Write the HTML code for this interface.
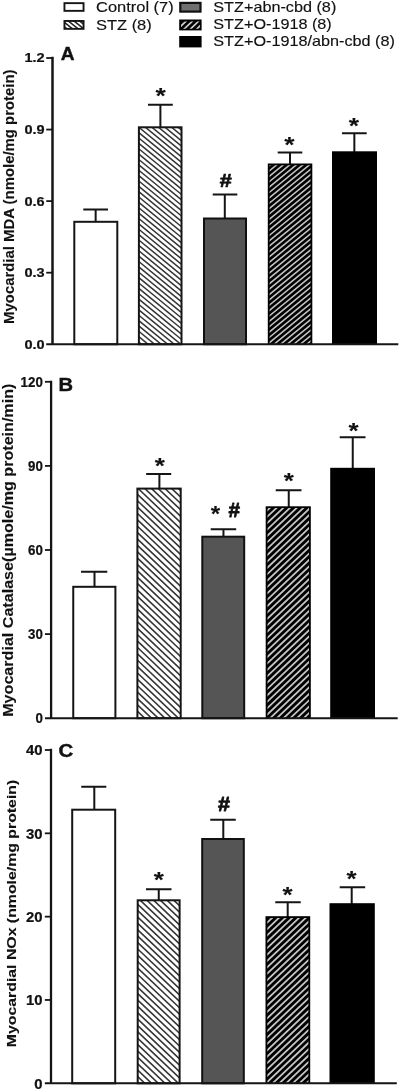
<!DOCTYPE html>
<html lang="en">
<head>
<meta charset="utf-8">
<title>Myocardial MDA, Catalase and NOx</title>
<style>
html,body{margin:0;padding:0;background:#fff;}
body{width:400px;height:1091px;overflow:hidden;}
svg{display:block;font-family:'Liberation Sans', Arial, Helvetica, sans-serif;filter:blur(0.35px);}
</style>
</head>
<body>
<svg width="400" height="1091" viewBox="0 0 400 1091">
<defs>
<clipPath id="c1"><rect x="138.90" y="127.30" width="42.60" height="216.95"/></clipPath>
<clipPath id="c2"><rect x="269.60" y="165.30" width="40.90" height="178.45"/></clipPath>
<clipPath id="c3"><rect x="137.40" y="488.60" width="43.30" height="229.60"/></clipPath>
<clipPath id="c4"><rect x="267.50" y="508.10" width="41.50" height="209.60"/></clipPath>
<clipPath id="c5"><rect x="137.70" y="900.30" width="41.90" height="183.00"/></clipPath>
<clipPath id="c6"><rect x="267.30" y="918.00" width="41.10" height="164.80"/></clipPath>
<clipPath id="c7"><rect x="64.45" y="20.95" width="19.10" height="7.90"/></clipPath>
<clipPath id="c8"><rect x="181.00" y="21.50" width="19.00" height="7.30"/></clipPath>
</defs>
<rect width="400" height="1091" fill="#fff"/>
<path d="M95.65 221.80V209.50M83.30 209.50H108.00" stroke="#151515" stroke-width="2.0" fill="none"/>
<rect x="74.30" y="221.80" width="43.00" height="122.45" fill="#fff" stroke="#151515" stroke-width="2.0"/>
<path d="M160.40 127.30V104.80M148.00 104.80H172.80" stroke="#151515" stroke-width="2.0" fill="none"/>
<rect x="138.90" y="127.30" width="42.60" height="216.95" fill="#fff"/>
<path clip-path="url(#c1)" d="M137.90 78.18L182.50 114.75M137.90 83.55L182.50 120.12M137.90 88.92L182.50 125.49M137.90 94.29L182.50 130.86M137.90 99.66L182.50 136.23M137.90 105.03L182.50 141.60M137.90 110.40L182.50 146.97M137.90 115.77L182.50 152.34M137.90 121.14L182.50 157.71M137.90 126.51L182.50 163.08M137.90 131.88L182.50 168.45M137.90 137.25L182.50 173.82M137.90 142.62L182.50 179.19M137.90 147.99L182.50 184.56M137.90 153.36L182.50 189.93M137.90 158.73L182.50 195.30M137.90 164.10L182.50 200.67M137.90 169.47L182.50 206.04M137.90 174.84L182.50 211.41M137.90 180.21L182.50 216.78M137.90 185.58L182.50 222.15M137.90 190.95L182.50 227.52M137.90 196.32L182.50 232.89M137.90 201.69L182.50 238.26M137.90 207.06L182.50 243.63M137.90 212.43L182.50 249.00M137.90 217.80L182.50 254.37M137.90 223.17L182.50 259.74M137.90 228.54L182.50 265.11M137.90 233.91L182.50 270.48M137.90 239.28L182.50 275.85M137.90 244.65L182.50 281.22M137.90 250.02L182.50 286.59M137.90 255.39L182.50 291.96M137.90 260.76L182.50 297.33M137.90 266.13L182.50 302.70M137.90 271.50L182.50 308.07M137.90 276.87L182.50 313.44M137.90 282.24L182.50 318.81M137.90 287.61L182.50 324.18M137.90 292.98L182.50 329.55M137.90 298.35L182.50 334.92M137.90 303.72L182.50 340.29M137.90 309.09L182.50 345.66M137.90 314.46L182.50 351.03M137.90 319.83L182.50 356.40M137.90 325.20L182.50 361.77M137.90 330.57L182.50 367.14M137.90 335.94L182.50 372.51M137.90 341.31L182.50 377.88M137.90 346.68L182.50 383.25M137.90 352.05L182.50 388.62M137.90 357.42L182.50 393.99M137.90 362.79L182.50 399.36M137.90 368.16L182.50 404.73M137.90 373.53L182.50 410.10M137.90 378.90L182.50 415.47M137.90 384.27L182.50 420.84" stroke="#363636" stroke-width="1.5" fill="none"/>
<rect x="138.90" y="127.30" width="42.60" height="216.95" fill="none" stroke="#151515" stroke-width="2.0"/>
<path d="M224.80 218.50V194.40M212.70 194.40H237.30" stroke="#151515" stroke-width="2.0" fill="none"/>
<rect x="204.00" y="218.50" width="42.00" height="125.75" fill="#555" stroke="#111" stroke-width="2.0"/>
<path d="M290.00 164.50V152.40M277.70 152.40H302.30" stroke="#151515" stroke-width="2.0" fill="none"/>
<rect x="267.80" y="163.50" width="44.50" height="180.75" fill="#000"/>
<rect x="269.60" y="165.30" width="40.90" height="178.45" fill="#000"/>
<path clip-path="url(#c2)" d="M268.60 117.82L311.50 82.64M268.60 123.19L311.50 88.01M268.60 128.56L311.50 93.38M268.60 133.93L311.50 98.75M268.60 139.30L311.50 104.12M268.60 144.67L311.50 109.49M268.60 150.04L311.50 114.86M268.60 155.41L311.50 120.23M268.60 160.78L311.50 125.60M268.60 166.15L311.50 130.97M268.60 171.52L311.50 136.34M268.60 176.89L311.50 141.71M268.60 182.26L311.50 147.08M268.60 187.63L311.50 152.45M268.60 193.00L311.50 157.82M268.60 198.37L311.50 163.19M268.60 203.74L311.50 168.56M268.60 209.11L311.50 173.93M268.60 214.48L311.50 179.30M268.60 219.85L311.50 184.67M268.60 225.22L311.50 190.04M268.60 230.59L311.50 195.41M268.60 235.96L311.50 200.78M268.60 241.33L311.50 206.15M268.60 246.70L311.50 211.52M268.60 252.07L311.50 216.89M268.60 257.44L311.50 222.26M268.60 262.81L311.50 227.63M268.60 268.18L311.50 233.00M268.60 273.55L311.50 238.37M268.60 278.92L311.50 243.74M268.60 284.29L311.50 249.11M268.60 289.66L311.50 254.48M268.60 295.03L311.50 259.85M268.60 300.40L311.50 265.22M268.60 305.77L311.50 270.59M268.60 311.14L311.50 275.96M268.60 316.51L311.50 281.33M268.60 321.88L311.50 286.70M268.60 327.25L311.50 292.07M268.60 332.62L311.50 297.44M268.60 337.99L311.50 302.81M268.60 343.36L311.50 308.18M268.60 348.73L311.50 313.55M268.60 354.10L311.50 318.92M268.60 359.47L311.50 324.29M268.60 364.84L311.50 329.66M268.60 370.21L311.50 335.03M268.60 375.58L311.50 340.40M268.60 380.95L311.50 345.77M268.60 386.32L311.50 351.14" stroke="#c4c4c4" stroke-width="1.55" fill="none"/>
<path d="M354.35 152.30V133.30M342.00 133.30H366.70" stroke="#151515" stroke-width="2.0" fill="none"/>
<rect x="332.00" y="151.30" width="45.00" height="192.95" fill="#000"/>
<path d="M52.50 56.75V344.25" stroke="#151515" stroke-width="2.5" fill="none"/>
<path d="M46.25 344.25H398.30" stroke="#151515" stroke-width="2.0" fill="none"/>
<path d="M46.25 58.00H52.50" stroke="#151515" stroke-width="1.8" fill="none"/>
<text transform="translate(44.60 62.40) scale(1.1000 1.0000)" font-size="13.2" font-weight="bold" text-anchor="end" fill="#111" stroke="#111" stroke-width="0.22">1.2</text>
<path d="M46.25 129.56H52.50" stroke="#151515" stroke-width="1.8" fill="none"/>
<text transform="translate(44.60 133.96) scale(1.1000 1.0000)" font-size="13.2" font-weight="bold" text-anchor="end" fill="#111" stroke="#111" stroke-width="0.22">0.9</text>
<path d="M46.25 201.12H52.50" stroke="#151515" stroke-width="1.8" fill="none"/>
<text transform="translate(44.60 205.53) scale(1.1000 1.0000)" font-size="13.2" font-weight="bold" text-anchor="end" fill="#111" stroke="#111" stroke-width="0.22">0.6</text>
<path d="M46.25 272.69H52.50" stroke="#151515" stroke-width="1.8" fill="none"/>
<text transform="translate(44.60 277.09) scale(1.1000 1.0000)" font-size="13.2" font-weight="bold" text-anchor="end" fill="#111" stroke="#111" stroke-width="0.22">0.3</text>
<text transform="translate(44.60 348.65) scale(1.1000 1.0000)" font-size="13.2" font-weight="bold" text-anchor="end" fill="#111" stroke="#111" stroke-width="0.22">0.0</text>
<text transform="translate(160.75 102.88) scale(1.2000 1.0000)" font-size="22" font-weight="bold" text-anchor="middle" fill="#111" stroke="#111" stroke-width="0.1" stroke-linejoin="round">*</text>
<text transform="translate(225.75 186.70) scale(1.2000 1.0000)" font-size="18" font-weight="bold" text-anchor="middle" fill="#111" stroke="#111" stroke-width="0.7" stroke-linejoin="round">#</text>
<text transform="translate(289.50 151.62) scale(1.2000 1.0000)" font-size="22" font-weight="bold" text-anchor="middle" fill="#111" stroke="#111" stroke-width="0.1" stroke-linejoin="round">*</text>
<text transform="translate(354.00 133.12) scale(1.2000 1.0000)" font-size="22" font-weight="bold" text-anchor="middle" fill="#111" stroke="#111" stroke-width="0.1" stroke-linejoin="round">*</text>
<text transform="translate(60.80 60.00) scale(1.0500 1.0000)" font-size="18.2" font-weight="bold" text-anchor="start" fill="#111" stroke="#111" stroke-width="0.4">A</text>
<text transform="translate(13.50 323.90) rotate(-90) scale(1.0000 0.9800)" font-size="14.9" font-weight="bold" text-anchor="start" fill="#111" stroke="#111" stroke-width="0.12">Myocardial MDA (nmole/mg protein)</text>
<path d="M94.50 586.80V571.80M81.00 571.80H107.30" stroke="#151515" stroke-width="2.0" fill="none"/>
<rect x="73.25" y="586.80" width="42.15" height="131.40" fill="#fff" stroke="#151515" stroke-width="2.0"/>
<path d="M159.40 488.60V474.10M146.20 474.10H171.20" stroke="#151515" stroke-width="2.0" fill="none"/>
<rect x="137.40" y="488.60" width="43.30" height="229.60" fill="#fff"/>
<path clip-path="url(#c3)" d="M136.40 429.50L181.70 472.53M136.40 435.88L181.70 478.91M136.40 442.26L181.70 485.29M136.40 448.64L181.70 491.67M136.40 455.02L181.70 498.05M136.40 461.40L181.70 504.43M136.40 467.78L181.70 510.81M136.40 474.16L181.70 517.19M136.40 480.54L181.70 523.57M136.40 486.92L181.70 529.95M136.40 493.30L181.70 536.33M136.40 499.68L181.70 542.71M136.40 506.06L181.70 549.09M136.40 512.44L181.70 555.47M136.40 518.82L181.70 561.86M136.40 525.20L181.70 568.23M136.40 531.58L181.70 574.62M136.40 537.96L181.70 580.99M136.40 544.34L181.70 587.38M136.40 550.72L181.70 593.75M136.40 557.10L181.70 600.13M136.40 563.48L181.70 606.51M136.40 569.86L181.70 612.89M136.40 576.24L181.70 619.27M136.40 582.62L181.70 625.65M136.40 589.00L181.70 632.03M136.40 595.38L181.70 638.41M136.40 601.76L181.70 644.79M136.40 608.14L181.70 651.17M136.40 614.52L181.70 657.55M136.40 620.90L181.70 663.93M136.40 627.28L181.70 670.31M136.40 633.66L181.70 676.69M136.40 640.04L181.70 683.07M136.40 646.42L181.70 689.45M136.40 652.80L181.70 695.83M136.40 659.18L181.70 702.21M136.40 665.56L181.70 708.59M136.40 671.94L181.70 714.97M136.40 678.32L181.70 721.35M136.40 684.70L181.70 727.73M136.40 691.08L181.70 734.11M136.40 697.46L181.70 740.49M136.40 703.84L181.70 746.87M136.40 710.22L181.70 753.25M136.40 716.60L181.70 759.63M136.40 722.98L181.70 766.01M136.40 729.36L181.70 772.39M136.40 735.74L181.70 778.77M136.40 742.12L181.70 785.15M136.40 748.50L181.70 791.53M136.40 754.88L181.70 797.91M136.40 761.26L181.70 804.29M136.40 767.64L181.70 810.67" stroke="#363636" stroke-width="1.6" fill="none"/>
<rect x="137.40" y="488.60" width="43.30" height="229.60" fill="none" stroke="#151515" stroke-width="2.0"/>
<path d="M223.45 536.70V529.30M210.70 529.30H236.20" stroke="#151515" stroke-width="2.0" fill="none"/>
<rect x="202.30" y="536.70" width="41.90" height="181.50" fill="#555" stroke="#111" stroke-width="2.0"/>
<path d="M288.75 507.30V490.30M275.70 490.30H301.50" stroke="#151515" stroke-width="2.0" fill="none"/>
<rect x="265.70" y="506.30" width="45.10" height="211.90" fill="#000"/>
<rect x="267.50" y="508.10" width="41.50" height="209.60" fill="#000"/>
<path clip-path="url(#c4)" d="M266.50 453.65L310.00 412.32M266.50 460.03L310.00 418.70M266.50 466.41L310.00 425.08M266.50 472.79L310.00 431.46M266.50 479.17L310.00 437.84M266.50 485.55L310.00 444.22M266.50 491.93L310.00 450.60M266.50 498.31L310.00 456.98M266.50 504.69L310.00 463.36M266.50 511.07L310.00 469.74M266.50 517.45L310.00 476.12M266.50 523.83L310.00 482.50M266.50 530.21L310.00 488.88M266.50 536.59L310.00 495.26M266.50 542.97L310.00 501.64M266.50 549.35L310.00 508.02M266.50 555.73L310.00 514.40M266.50 562.11L310.00 520.78M266.50 568.49L310.00 527.16M266.50 574.87L310.00 533.54M266.50 581.25L310.00 539.92M266.50 587.63L310.00 546.30M266.50 594.01L310.00 552.68M266.50 600.39L310.00 559.06M266.50 606.77L310.00 565.44M266.50 613.15L310.00 571.82M266.50 619.53L310.00 578.20M266.50 625.91L310.00 584.58M266.50 632.29L310.00 590.96M266.50 638.67L310.00 597.34M266.50 645.05L310.00 603.72M266.50 651.43L310.00 610.10M266.50 657.81L310.00 616.48M266.50 664.19L310.00 622.86M266.50 670.57L310.00 629.24M266.50 676.95L310.00 635.62M266.50 683.33L310.00 642.00M266.50 689.71L310.00 648.38M266.50 696.09L310.00 654.76M266.50 702.47L310.00 661.14M266.50 708.85L310.00 667.52M266.50 715.23L310.00 673.90M266.50 721.61L310.00 680.28M266.50 727.99L310.00 686.66M266.50 734.37L310.00 693.04M266.50 740.75L310.00 699.42M266.50 747.13L310.00 705.80M266.50 753.51L310.00 712.18M266.50 759.89L310.00 718.56M266.50 766.27L310.00 724.94" stroke="#c4c4c4" stroke-width="1.8" fill="none"/>
<path d="M352.75 468.80V437.30M339.70 437.30H365.50" stroke="#151515" stroke-width="2.0" fill="none"/>
<rect x="330.20" y="467.80" width="44.80" height="250.40" fill="#000"/>
<path d="M51.10 380.65V718.20" stroke="#151515" stroke-width="2.3" fill="none"/>
<path d="M44.95 718.20H397.70" stroke="#151515" stroke-width="1.9" fill="none"/>
<path d="M44.95 381.80H51.10" stroke="#151515" stroke-width="1.8" fill="none"/>
<text transform="translate(42.80 386.70) scale(1.0400 1.1000)" font-size="12.8" font-weight="bold" text-anchor="end" fill="#111" stroke="#111" stroke-width="0.22">120</text>
<path d="M44.95 465.90H51.10" stroke="#151515" stroke-width="1.8" fill="none"/>
<text transform="translate(42.80 470.80) scale(1.0400 1.1000)" font-size="12.8" font-weight="bold" text-anchor="end" fill="#111" stroke="#111" stroke-width="0.22">90</text>
<path d="M44.95 550.00H51.10" stroke="#151515" stroke-width="1.8" fill="none"/>
<text transform="translate(42.80 554.90) scale(1.0400 1.1000)" font-size="12.8" font-weight="bold" text-anchor="end" fill="#111" stroke="#111" stroke-width="0.22">60</text>
<path d="M44.95 634.10H51.10" stroke="#151515" stroke-width="1.8" fill="none"/>
<text transform="translate(42.80 639.00) scale(1.0400 1.1000)" font-size="12.8" font-weight="bold" text-anchor="end" fill="#111" stroke="#111" stroke-width="0.22">30</text>
<text transform="translate(42.80 723.10) scale(1.0400 1.1000)" font-size="12.8" font-weight="bold" text-anchor="end" fill="#111" stroke="#111" stroke-width="0.22">0</text>
<text transform="translate(159.75 473.38) scale(1.1800 1.0000)" font-size="22" font-weight="bold" text-anchor="middle" fill="#111" stroke="#111" stroke-width="0.1" stroke-linejoin="round">*</text>
<text transform="translate(215.50 520.88) scale(1.1000 1.0000)" font-size="22" font-weight="bold" text-anchor="middle" fill="#111" stroke="#111" stroke-width="0.1" stroke-linejoin="round">*</text>
<text transform="translate(234.15 517.40) scale(1.1500 1.1000)" font-size="18" font-weight="bold" text-anchor="middle" fill="#111" stroke="#111" stroke-width="0.7" stroke-linejoin="round">#</text>
<text transform="translate(288.75 487.62) scale(1.1800 1.0000)" font-size="22" font-weight="bold" text-anchor="middle" fill="#111" stroke="#111" stroke-width="0.1" stroke-linejoin="round">*</text>
<text transform="translate(353.50 437.88) scale(1.1800 1.0000)" font-size="22" font-weight="bold" text-anchor="middle" fill="#111" stroke="#111" stroke-width="0.1" stroke-linejoin="round">*</text>
<text transform="translate(58.40 391.00) scale(1.1500 1.0000)" font-size="17.5" font-weight="bold" text-anchor="start" fill="#111" stroke="#111" stroke-width="0.4">B</text>
<text transform="translate(12.90 716.80) rotate(-90) scale(1.0000 0.8600)" font-size="16.12" font-weight="bold" text-anchor="start" fill="#111" stroke="#111" stroke-width="0.12">Myocardial Catalase(µmole/mg protein/min)</text>
<path d="M94.30 809.70V786.80M81.25 786.80H106.30" stroke="#151515" stroke-width="2.0" fill="none"/>
<rect x="72.20" y="809.70" width="43.00" height="273.60" fill="#fff" stroke="#151515" stroke-width="2.0"/>
<path d="M158.75 900.30V889.25M146.00 889.25H171.50" stroke="#151515" stroke-width="2.0" fill="none"/>
<rect x="137.70" y="900.30" width="41.90" height="183.00" fill="#fff"/>
<path clip-path="url(#c5)" d="M136.70 845.88L180.60 887.59M136.70 852.26L180.60 893.97M136.70 858.64L180.60 900.35M136.70 865.02L180.60 906.73M136.70 871.40L180.60 913.11M136.70 877.78L180.60 919.49M136.70 884.16L180.60 925.87M136.70 890.54L180.60 932.25M136.70 896.92L180.60 938.62M136.70 903.30L180.60 945.00M136.70 909.68L180.60 951.38M136.70 916.06L180.60 957.76M136.70 922.44L180.60 964.14M136.70 928.82L180.60 970.52M136.70 935.20L180.60 976.90M136.70 941.58L180.60 983.28M136.70 947.96L180.60 989.66M136.70 954.34L180.60 996.04M136.70 960.72L180.60 1002.42M136.70 967.10L180.60 1008.80M136.70 973.48L180.60 1015.18M136.70 979.86L180.60 1021.56M136.70 986.24L180.60 1027.94M136.70 992.62L180.60 1034.33M136.70 999.00L180.60 1040.70M136.70 1005.38L180.60 1047.09M136.70 1011.76L180.60 1053.46M136.70 1018.14L180.60 1059.85M136.70 1024.52L180.60 1066.23M136.70 1030.90L180.60 1072.61M136.70 1037.28L180.60 1078.99M136.70 1043.66L180.60 1085.37M136.70 1050.04L180.60 1091.75M136.70 1056.42L180.60 1098.13M136.70 1062.80L180.60 1104.51M136.70 1069.18L180.60 1110.89M136.70 1075.56L180.60 1117.27M136.70 1081.94L180.60 1123.65M136.70 1088.32L180.60 1130.03M136.70 1094.70L180.60 1136.41M136.70 1101.08L180.60 1142.79M136.70 1107.46L180.60 1149.17M136.70 1113.84L180.60 1155.55M136.70 1120.22L180.60 1161.93M136.70 1126.60L180.60 1168.31M136.70 1132.98L180.60 1174.69" stroke="#363636" stroke-width="1.6" fill="none"/>
<rect x="137.70" y="900.30" width="41.90" height="183.00" fill="none" stroke="#151515" stroke-width="2.0"/>
<path d="M223.30 839.00V819.80M210.25 819.80H235.75" stroke="#151515" stroke-width="2.0" fill="none"/>
<rect x="202.20" y="839.00" width="41.60" height="244.30" fill="#555" stroke="#111" stroke-width="2.0"/>
<path d="M287.70 917.20V902.25M275.25 902.25H300.75" stroke="#151515" stroke-width="2.0" fill="none"/>
<rect x="265.50" y="916.20" width="44.70" height="167.10" fill="#000"/>
<rect x="267.30" y="918.00" width="41.10" height="164.80" fill="#000"/>
<path clip-path="url(#c6)" d="M266.30 866.03L309.40 825.09M266.30 872.41L309.40 831.47M266.30 878.79L309.40 837.85M266.30 885.17L309.40 844.23M266.30 891.55L309.40 850.61M266.30 897.93L309.40 856.99M266.30 904.31L309.40 863.37M266.30 910.69L309.40 869.75M266.30 917.07L309.40 876.12M266.30 923.45L309.40 882.50M266.30 929.83L309.40 888.88M266.30 936.21L309.40 895.26M266.30 942.59L309.40 901.64M266.30 948.97L309.40 908.02M266.30 955.35L309.40 914.40M266.30 961.73L309.40 920.78M266.30 968.11L309.40 927.16M266.30 974.49L309.40 933.54M266.30 980.87L309.40 939.92M266.30 987.25L309.40 946.30M266.30 993.63L309.40 952.68M266.30 1000.01L309.40 959.06M266.30 1006.39L309.40 965.44M266.30 1012.77L309.40 971.82M266.30 1019.15L309.40 978.20M266.30 1025.53L309.40 984.58M266.30 1031.91L309.40 990.97M266.30 1038.29L309.40 997.35M266.30 1044.67L309.40 1003.73M266.30 1051.05L309.40 1010.11M266.30 1057.43L309.40 1016.49M266.30 1063.81L309.40 1022.87M266.30 1070.19L309.40 1029.25M266.30 1076.57L309.40 1035.63M266.30 1082.95L309.40 1042.01M266.30 1089.33L309.40 1048.39M266.30 1095.71L309.40 1054.77M266.30 1102.09L309.40 1061.15M266.30 1108.47L309.40 1067.53M266.30 1114.85L309.40 1073.91M266.30 1121.23L309.40 1080.29M266.30 1127.61L309.40 1086.67M266.30 1133.99L309.40 1093.05" stroke="#c4c4c4" stroke-width="1.8" fill="none"/>
<path d="M351.70 904.20V887.30M339.70 887.30H365.20" stroke="#151515" stroke-width="2.0" fill="none"/>
<rect x="329.50" y="903.20" width="45.30" height="180.10" fill="#000"/>
<path d="M51.00 748.85V1083.30" stroke="#151515" stroke-width="2.3" fill="none"/>
<path d="M44.85 1083.30H396.80" stroke="#151515" stroke-width="1.9" fill="none"/>
<path d="M44.85 750.00H51.00" stroke="#151515" stroke-width="1.8" fill="none"/>
<text transform="translate(42.60 755.30) scale(1.0800 1.0800)" font-size="13.8" font-weight="bold" text-anchor="end" fill="#111" stroke="#111" stroke-width="0.22">40</text>
<path d="M44.85 833.33H51.00" stroke="#151515" stroke-width="1.8" fill="none"/>
<text transform="translate(42.60 838.62) scale(1.0800 1.0800)" font-size="13.8" font-weight="bold" text-anchor="end" fill="#111" stroke="#111" stroke-width="0.22">30</text>
<path d="M44.85 916.65H51.00" stroke="#151515" stroke-width="1.8" fill="none"/>
<text transform="translate(42.60 921.95) scale(1.0800 1.0800)" font-size="13.8" font-weight="bold" text-anchor="end" fill="#111" stroke="#111" stroke-width="0.22">20</text>
<path d="M44.85 999.97H51.00" stroke="#151515" stroke-width="1.8" fill="none"/>
<text transform="translate(42.60 1005.27) scale(1.0800 1.0800)" font-size="13.8" font-weight="bold" text-anchor="end" fill="#111" stroke="#111" stroke-width="0.22">10</text>
<text transform="translate(42.60 1088.60) scale(1.0800 1.0800)" font-size="13.8" font-weight="bold" text-anchor="end" fill="#111" stroke="#111" stroke-width="0.22">0</text>
<text transform="translate(158.90 887.38) scale(1.1800 1.0000)" font-size="22" font-weight="bold" text-anchor="middle" fill="#111" stroke="#111" stroke-width="0.1" stroke-linejoin="round">*</text>
<text transform="translate(224.00 811.00) scale(1.2000 1.1000)" font-size="18" font-weight="bold" text-anchor="middle" fill="#111" stroke="#111" stroke-width="0.7" stroke-linejoin="round">#</text>
<text transform="translate(287.50 901.62) scale(1.1800 1.0000)" font-size="22" font-weight="bold" text-anchor="middle" fill="#111" stroke="#111" stroke-width="0.1" stroke-linejoin="round">*</text>
<text transform="translate(351.60 886.38) scale(1.1800 1.0000)" font-size="22" font-weight="bold" text-anchor="middle" fill="#111" stroke="#111" stroke-width="0.1" stroke-linejoin="round">*</text>
<text transform="translate(58.40 757.20) scale(1.1200 1.0000)" font-size="18.2" font-weight="bold" text-anchor="start" fill="#111" stroke="#111" stroke-width="0.4">C</text>
<text transform="translate(16.10 1047.20) rotate(-90) scale(1.0000 0.8600)" font-size="15.85" font-weight="bold" text-anchor="start" fill="#111" stroke="#111" stroke-width="0.12">Myocardial NOx (nmole/mg protein)</text>
<rect x="64.45" y="3.15" width="19.10" height="7.70" fill="#fff" stroke="#151515" stroke-width="1.9"/>
<rect x="64.45" y="20.95" width="19.10" height="7.90" fill="#fff"/>
<path clip-path="url(#c7)" d="M63.45 -5.40L84.55 11.48M63.45 -0.90L84.55 15.98M63.45 3.60L84.55 20.48M63.45 8.10L84.55 24.98M63.45 12.60L84.55 29.48M63.45 17.10L84.55 33.98M63.45 21.60L84.55 38.48M63.45 26.10L84.55 42.98M63.45 30.60L84.55 47.48M63.45 35.10L84.55 51.98M63.45 39.60L84.55 56.48M63.45 44.10L84.55 60.98M63.45 48.60L84.55 65.48" stroke="#222" stroke-width="1.5" fill="none"/>
<rect x="64.45" y="20.95" width="19.10" height="7.90" fill="none" stroke="#151515" stroke-width="1.9"/>
<rect x="180.30" y="2.90" width="20.20" height="8.70" fill="#707070" stroke="#111" stroke-width="2.2"/>
<rect x="179.20" y="19.50" width="22.40" height="10.90" fill="#000"/>
<rect x="181.00" y="21.50" width="19.00" height="7.30" fill="#000"/>
<path clip-path="url(#c8)" d="M180.00 -9.05L201.00 -29.00M180.00 -3.05L201.00 -23.00M180.00 2.95L201.00 -17.00M180.00 8.95L201.00 -11.00M180.00 14.95L201.00 -5.00M180.00 20.95L201.00 1.00M180.00 26.95L201.00 7.00M180.00 32.95L201.00 13.00M180.00 38.95L201.00 19.00M180.00 44.95L201.00 25.00M180.00 50.95L201.00 31.00M180.00 56.95L201.00 37.00" stroke="#cfcfcf" stroke-width="1.7" fill="none"/>
<rect x="179.20" y="36.00" width="22.40" height="11.40" fill="#000"/>
<text transform="translate(96.00 12.00) scale(1.1280 1.0000)" font-size="14.6" text-anchor="start" fill="#111" stroke="#111" stroke-width="0.15">Control (7)</text>
<text transform="translate(96.00 29.60) scale(1.1280 1.0000)" font-size="14.6" text-anchor="start" fill="#111" stroke="#111" stroke-width="0.15">STZ (8)</text>
<text transform="translate(213.30 11.70) scale(1.1110 1.0000)" font-size="14.6" text-anchor="start" fill="#111" stroke="#111" stroke-width="0.15">STZ+abn-cbd (8)</text>
<text transform="translate(213.30 29.40) scale(1.1110 1.0000)" font-size="14.6" text-anchor="start" fill="#111" stroke="#111" stroke-width="0.15">STZ+O-1918 (8)</text>
<text transform="translate(213.30 45.90) scale(1.1110 1.0000)" font-size="14.6" text-anchor="start" fill="#111" stroke="#111" stroke-width="0.15">STZ+O-1918/abn-cbd (8)</text>
</svg>
</body>
</html>
